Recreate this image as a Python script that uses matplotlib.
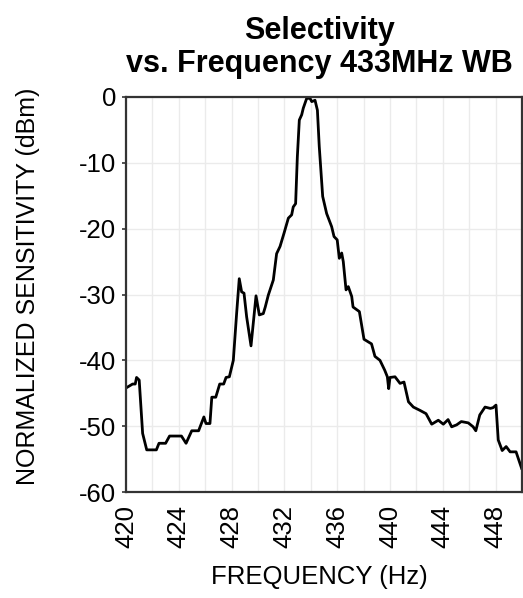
import matplotlib
matplotlib.use("Agg")
import matplotlib.pyplot as plt
from matplotlib.ticker import MultipleLocator

plt.rcParams["font.family"] = ["Liberation Sans", "DejaVu Sans"]

freq = [
    420.0, 420.5, 420.7, 420.8, 421.0, 421.26, 421.57, 422.3, 422.5, 423.0,
    423.3, 424.2, 424.55, 424.98, 425.5, 425.9, 426.06, 426.36, 426.5, 426.8,
    427.1, 427.4, 427.58, 427.83, 428.13, 428.38, 428.58, 428.76, 428.94, 429.14,
    429.47, 429.85, 430.1, 430.4, 430.55, 430.78, 431.16, 431.41, 431.67, 431.97,
    432.3, 432.55, 432.67, 432.85, 432.98, 433.13, 433.31, 433.43, 433.69, 433.94,
    434.07, 434.32, 434.5, 434.64, 434.9, 435.2, 435.58, 435.76, 436.0, 436.16,
    436.34, 436.46, 436.67, 436.84, 437.1, 437.2, 437.68, 438.03, 438.6, 438.86,
    439.24, 439.6, 439.8, 439.9, 440.0, 440.38, 440.76, 441.06, 441.4, 441.77,
    442.27, 442.73, 443.16, 443.66, 444.04, 444.4, 444.67, 445.05, 445.4, 445.93,
    446.3, 446.5, 446.8, 447.2, 447.6, 447.8, 448.03, 448.2, 448.5, 448.8,
    449.1, 449.55, 449.97,
]
sensitivity = [
    -44.2, -43.6, -43.6, -42.6, -43.0, -51.1, -53.6, -53.6, -52.6, -52.6,
    -51.5, -51.5, -52.6, -50.7, -50.7, -48.6, -49.6, -49.6, -45.6, -45.6,
    -43.6, -43.6, -42.6, -42.5, -40.0, -32.9, -27.6, -29.6, -29.8, -33.4,
    -37.8, -30.2, -33.1, -32.9, -31.9, -30.1, -27.8, -23.8, -22.7, -20.7,
    -18.4, -17.9, -16.7, -16.2, -9.1, -3.5, -2.7, -1.7, -0.2, -0.2,
    -0.7, -0.5, -2.0, -7.5, -15.1, -17.7, -19.7, -21.2, -21.7, -24.5,
    -23.7, -25.0, -29.3, -28.8, -30.3, -31.9, -32.6, -36.8, -37.5, -39.4,
    -40.0, -41.5, -42.5, -44.3, -42.6, -42.5, -43.5, -43.3, -46.3, -47.1,
    -47.6, -48.1, -49.7, -49.1, -49.7, -49.0, -50.1, -49.8, -49.3, -49.5,
    -50.1, -50.7, -48.3, -47.1, -47.3, -47.2, -46.8, -52.1, -53.7, -53.1,
    -53.9, -53.9, -56.4,
]

fig = plt.figure(figsize=(5.23, 5.98), dpi=100)
ax = fig.add_axes([126 / 523, 1 - 492 / 598, 396 / 523, 395 / 598])

ax.plot(freq, sensitivity, color="black", linewidth=2.0, solid_joinstyle="round")

ax.set_xlim(420, 450)
ax.set_ylim(-60, 0)
ax.xaxis.set_major_locator(MultipleLocator(4))
ax.xaxis.set_minor_locator(MultipleLocator(2))
ax.yaxis.set_major_locator(MultipleLocator(10))
ax.grid(which="both", color="#ebebeb", linewidth=1.0)
ax.set_axisbelow(True)

for s in ax.spines.values():
    s.set_color("#333333")
    s.set_linewidth(1.6)

ax.tick_params(axis="x", which="both", length=0, pad=9, labelsize=18.5,
               labelrotation=90)
ax.tick_params(axis="y", which="both", length=3, width=1.2, pad=4,
               labelsize=18.5, color="#333333")
ax.set_yticks(range(-60, 1, 10))
ax.set_yticklabels([f"{v}" for v in range(-60, 1, 10)])

fig.text(319 / 523, 1 - 577 / 598, "FREQUENCY (Hz)", fontsize=18.5,
         ha="center", va="center")
fig.text(28 / 523, 1 - 286 / 598, "NORMALIZED SENSITIVITY (dBm)", fontsize=18,
         ha="center", va="center", rotation=90)
fig.text(319 / 523, 1 - 72 / 598, "Selectivity\nvs. Frequency 433MHz WB",
         fontsize=22, fontweight="bold", ha="center", va="baseline",
         linespacing=1.12)

fig.savefig("out.png", dpi=100)
